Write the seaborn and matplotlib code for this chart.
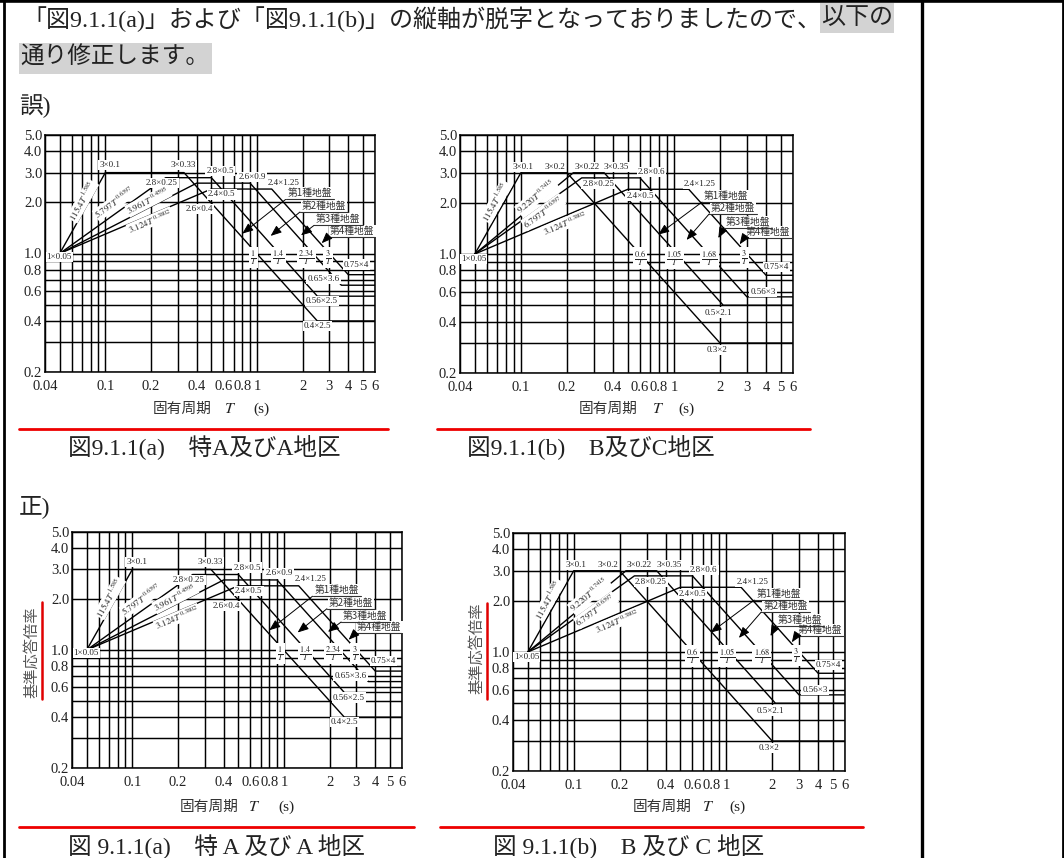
import numpy as np
import pandas as pd
import matplotlib
matplotlib.use("Agg")
import matplotlib.pyplot as plt
import seaborn as sns
from matplotlib.transforms import Affine2D
from matplotlib.lines import Line2D
from matplotlib.patches import Rectangle
from matplotlib.ticker import NullLocator

# ---------------------------------------------------------------- data
soil_types = ["第1種地盤", "第2種地盤", "第3種地盤", "第4種地盤"]
start_T, start_A = 0.05, 1.0

# 特A及びA地区
a_rise_T = [0.1, 0.25, 0.4, 0.5]
a_peak = [3.0, 2.8, 2.6, 2.4]
a_corner_T = [0.33, 0.5, 0.9, 1.25]
a_decay_coef = ["1", "1.4", "2.34", "3"]
a_tail_T = [2.5, 2.5, 3.6, 4.0]
a_tail = [0.4, 0.56, 0.65, 0.75]
a_rise_coef = ["115.4", "5.797", "3.961", "3.124"]
a_rise_exp = ["1.585", "0.6397", "0.4595", "0.3802"]

# B及びC地区
b_rise_T = [0.1, 0.22, 0.25, 0.5]
b_peak = [3.0, 3.0, 2.8, 2.4]
b_corner_T = [0.2, 0.35, 0.6, 1.25]
b_decay_coef = ["0.6", "1.05", "1.68", "3"]
b_tail_T = [2.0, 2.1, 3.0, 4.0]
b_tail = [0.3, 0.5, 0.56, 0.75]
b_rise_coef = ["115.4", "9.220", "6.797", "3.124"]
b_rise_exp = ["1.585", "0.7415", "0.6397", "0.3802"]

x_tick_values = [0.04, 0.1, 0.2, 0.4, 0.6, 0.8, 1, 2, 3, 4, 5, 6]
y_tick_values = [0.2, 0.4, 0.6, 0.8, 1.0, 2.0, 3.0, 4.0, 5.0]

# ---------------------------------------------------------------- label layout (data coordinates)
layout_a = dict(
    start=(0.0497, 0.955),
    rise=[(0.107, 3.33), (0.235, 2.6), (0.417, 1.83), (0.585, 2.23)],
    corner=[(0.327, 3.33), (0.57, 3.08), (0.93, 2.84), (1.49, 2.62)],
    frac=[(0.95, 0.95), (1.38, 0.95), (2.12, 0.95), (2.95, 0.95)],
    tail=[(2.5, 0.374), (2.67, 0.523), (2.74, 0.706), (4.54, 0.861)],
    formula=[(0.0708, 2.04), (0.1157, 2.0), (0.192, 2.04), (0.197, 1.55)],
    callout=[(2.23, 2.26), (2.77, 1.905), (3.44, 1.59), (4.25, 1.36)],
    tip=[(0.80, 1.31), (1.23, 1.27), (1.95, 1.28), (2.67, 1.15)],
)
layout_b = dict(
    start=(0.049, 0.93),
    rise=[(0.1036, 3.23), (0.269, 3.23), (0.32, 2.58), (0.6, 2.19)],
    corner=[(0.167, 3.23), (0.422, 3.23), (0.713, 3.02), (1.48, 2.58)],
    frac=[(0.6, 0.95), (1.01, 0.95), (1.71, 0.95), (2.9, 0.95)],
    tail=[(1.9, 0.273), (1.95, 0.453), (3.82, 0.601), (4.67, 0.843)],
    formula=[(0.0687, 2.03), (0.1265, 2.17), (0.14, 1.76), (0.194, 1.51)],
    callout=[(2.2, 2.19), (2.44, 1.86), (3.05, 1.55), (4.12, 1.34)],
    tip=[(0.79, 1.3), (1.21, 1.21), (1.95, 1.24), (2.69, 1.14)],
)

# ---------------------------------------------------------------- figure setup
W, H = 1064, 858
sns.set_theme(style="white")
plt.rcParams["font.family"] = ["Liberation Serif", "Noto Sans CJK JP", "DejaVu Sans"]
plt.rcParams["mathtext.fontset"] = "stix"

fig = plt.figure(figsize=(W / 100, H / 100), dpi=100)
fig.patch.set_facecolor("white")
PIX = Affine2D().scale(1 / W, -1 / H).translate(0, 1) + fig.transFigure

CJK = ["Noto Sans CJK JP"]
MIXED = ["Liberation Serif", "Noto Sans CJK JP"]
BOX = dict(boxstyle="square,pad=0.12", fc="white", ec="none")

grid_x = np.concatenate([np.arange(4, 10) * 0.01, np.arange(1, 10) * 0.1, np.arange(1, 7) * 1.0])
grid_y = np.concatenate([np.arange(2, 10) * 0.1, np.arange(1, 6) * 1.0])

callouts = []


def add_axes_px(left, top, right, bottom):
    return fig.add_axes([left / W, 1 - bottom / H, (right - left) / W, (bottom - top) / H])


def draw_chart(ax, rise_T, peak, corner_T, decay_coef, tail_T, tail, rise_coef, rise_exp, lay):
    rows = []
    for i, soil in enumerate(soil_types):
        Ts = [start_T, rise_T[i], corner_T[i], tail_T[i], x_tick_values[-1]]
        As = [start_A, peak[i], peak[i], tail[i], tail[i]]
        rows += [dict(soil=soil, T=t, A=a) for t, a in zip(Ts, As)]
    df = pd.DataFrame(rows)

    ax.set_xscale("log")
    ax.set_yscale("log")
    sns.lineplot(data=df, x="T", y="A", units="soil", estimator=None, sort=False,
                 color="black", lw=1.0, ax=ax, legend=False, zorder=3)
    ax.set_xlim(x_tick_values[0], x_tick_values[-1])
    ax.set_ylim(y_tick_values[0], y_tick_values[-1])

    ax.set_xticks(grid_x, labels=[f"{v:g}" if np.any(np.isclose(v, x_tick_values)) else "" for v in grid_x])
    ax.set_yticks(grid_y, labels=[f"{v:.1f}" if np.any(np.isclose(v, y_tick_values)) else "" for v in grid_y])
    ax.xaxis.set_minor_locator(NullLocator())
    ax.yaxis.set_minor_locator(NullLocator())
    ax.tick_params(length=0, labelsize=10.5, colors="#222222")
    ax.tick_params(axis="x", pad=5.5)
    ax.tick_params(axis="y", pad=2)
    ax.grid(True, which="major", color="black", lw=1.05, zorder=1)
    ax.set_axisbelow(True)
    for s in ax.spines.values():
        s.set_visible(True)
        s.set_color("black")
        s.set_linewidth(1.1)
    ax.set_xlabel("")
    ax.set_ylabel("")

    kw = dict(ha="center", va="center", fontsize=6.5, color="#222222", bbox=BOX, zorder=5)
    ax.text(*lay["start"], f"{start_A:g}×{start_T:g}", **kw)
    for i in range(4):
        ax.text(*lay["rise"][i], f"{peak[i]:g}×{rise_T[i]:g}", **kw)
        ax.text(*lay["corner"][i], f"{peak[i]:g}×{corner_T[i]:g}", **kw)
        ax.text(*lay["tail"][i], f"{tail[i]:g}×{tail_T[i]:g}", **kw)
        ax.text(*lay["frac"][i], rf"$\frac{{{decay_coef[i]}}}{{T}}$",
                ha="center", va="center", fontsize=8.5, color="#222222",
                bbox=dict(boxstyle="square,pad=0.1", fc="white", ec="none"), zorder=5)
        p0 = ax.transData.transform((start_T, start_A))
        p1 = ax.transData.transform((rise_T[i], peak[i]))
        ang = np.degrees(np.arctan2(p1[1] - p0[1], p1[0] - p0[0]))
        ax.text(*lay["formula"][i], rf"${rise_coef[i]}T^{{\ {rise_exp[i]}}}$",
                ha="center", va="center", rotation=ang, rotation_mode="anchor",
                fontsize=6.5, color="#222222",
                bbox=dict(boxstyle="square,pad=0.05", fc="white", ec="none"), zorder=5)
        t = ax.text(*lay["callout"][i], soil_types[i], ha="center", va="center",
                    fontsize=7, family=CJK, color="#333333",
                    bbox=dict(boxstyle="square,pad=0.1", fc="white", ec="none"), zorder=6)
        callouts.append((ax, t, lay["tip"][i]))


def axis_title(right_of_jp, x_T, x_s, y):
    fig.text(right_of_jp, y, "固有周期", transform=PIX, ha="right", va="center",
             fontsize=10.6, family=CJK, color="#333333")
    fig.text(x_T, y, r"$T$", transform=PIX, ha="center", va="center", fontsize=11.5, color="#222222")
    fig.text(x_s, y, "(s)", transform=PIX, ha="left", va="center", fontsize=11, color="#222222")


def y_title(x, y, bar_x, bar_top, bar_bottom):
    fig.text(x, y, "基準応答倍率", transform=PIX, ha="center", va="center", rotation=90,
             fontsize=11, family=CJK, color="#555555")
    fig.add_artist(Line2D([bar_x, bar_x], [bar_top, bar_bottom], transform=PIX, color="#e00000", lw=1.8))


# ---------------------------------------------------------------- charts
ax_a = add_axes_px(45, 135, 375, 372)
draw_chart(ax_a, a_rise_T, a_peak, a_corner_T, a_decay_coef, a_tail_T, a_tail, a_rise_coef, a_rise_exp, layout_a)
ax_b = add_axes_px(460, 135, 793, 373)
draw_chart(ax_b, b_rise_T, b_peak, b_corner_T, b_decay_coef, b_tail_T, b_tail, b_rise_coef, b_rise_exp, layout_b)
ax_c = add_axes_px(72, 532, 402, 768)
draw_chart(ax_c, a_rise_T, a_peak, a_corner_T, a_decay_coef, a_tail_T, a_tail, a_rise_coef, a_rise_exp, layout_a)
ax_d = add_axes_px(513, 533, 845, 771)
draw_chart(ax_d, b_rise_T, b_peak, b_corner_T, b_decay_coef, b_tail_T, b_tail, b_rise_coef, b_rise_exp, layout_b)

axis_title(212, 230, 253, 409)
axis_title(638, 658, 678, 409)
axis_title(239, 254, 278, 807)
axis_title(692, 708, 729, 807)
y_title(32, 652, 42, 602, 699)
y_title(477, 648, 487, 603, 699)

# ---------------------------------------------------------------- page text and rules
for x0, x1, y in [(19, 388, 429), (437, 810, 429), (19, 414, 827), (440, 863, 827)]:
    fig.add_artist(Line2D([x0, x1], [y, y], transform=PIX, color="#ee0000", lw=2.0))

for xs, ys, lw in [((0, W), (1, 1), 2.6), ((4, 4), (0, H), 2.0), ((922, 922), (0, H), 2.4), ((1063, 1063), (0, H), 2.0)]:
    fig.add_artist(Line2D(xs, ys, transform=PIX, color="black", lw=lw))

line1 = fig.text(22, 19, "「図9.1.1(a)」および「図9.1.1(b)」の縦軸が脱字となっておりましたので、",
                 transform=PIX, ha="left", va="center", fontsize=17.3, family=MIXED, color="#222222")
line1_hl = fig.text(818, 19, "以下の", transform=PIX, ha="left", va="center", fontsize=17.3,
                    family=MIXED, color="#222222", zorder=3)
fig.add_artist(Rectangle((19, 43), 193, 31, transform=PIX, fc="#d3d3d3", ec="none", zorder=1))
fig.text(20, 58, "通り修正します。", transform=PIX, ha="left", va="center", fontsize=17,
         family=MIXED, color="#222222", zorder=3)
fig.text(19, 106, "誤)", transform=PIX, ha="left", va="center", fontsize=17, family=MIXED, color="#222222")
fig.text(19, 507, "正)", transform=PIX, ha="left", va="center", fontsize=17, family=MIXED, color="#222222")

cap_kw = dict(transform=PIX, ha="left", va="center", fontsize=17, family=MIXED, color="#222222")
fig.text(68, 447, "図9.1.1(a)\u3000特A及びA地区", **cap_kw)
fig.text(467, 447, "図9.1.1(b)\u3000B及びC地区", **cap_kw)
fig.text(68, 846, "図 9.1.1(a)\u3000特 A 及び A 地区", **cap_kw)
fig.text(493, 846, "図 9.1.1(b)\u3000B 及び C 地区", **cap_kw)

# ---------------------------------------------------------------- second pass: extents
fig.canvas.draw()
renderer = fig.canvas.get_renderer()

bb1 = line1.get_window_extent(renderer)
x_end = bb1.x1 * W / fig.bbox.width
line1_hl.set_x(x_end)
bb2 = line1_hl.get_window_extent(renderer)
hl_w = bb2.width * W / fig.bbox.width
fig.add_artist(Rectangle((x_end - 1, 3), hl_w + 2, 30, transform=PIX, fc="#d3d3d3", ec="none", zorder=1))

for ax, t, tip in callouts:
    bb = t.get_window_extent(renderer)
    inv = ax.transData.inverted()
    xa, ya = inv.transform((bb.x0 - 2, bb.y0 - 1))
    xb, _ = inv.transform((bb.x1 + 2, bb.y0 - 1))
    ax.plot([xa, xb], [ya, ya], color="#333333", lw=0.8, zorder=6)
    ax.annotate("", xy=tip, xytext=(xa, ya), xycoords="data", textcoords="data",
                arrowprops=dict(arrowstyle="-|>,head_length=0.55,head_width=0.22",
                                color="black", lw=0.7, shrinkA=0, shrinkB=0), zorder=6)

fig.savefig("out.png", dpi=100, facecolor="white")
